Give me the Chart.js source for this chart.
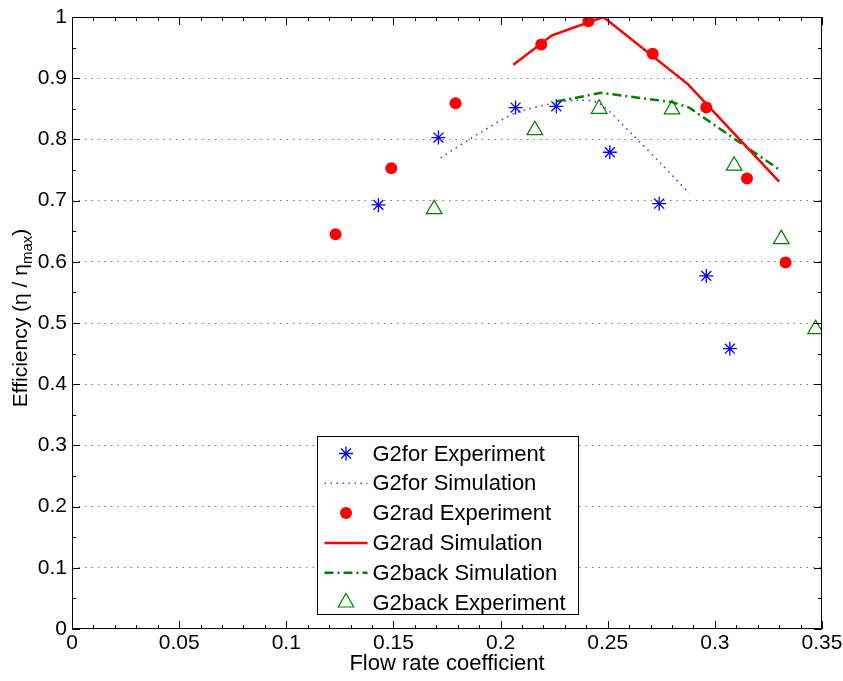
<!DOCTYPE html>
<html>
<head>
<meta charset="utf-8">
<script src="https://cdn.jsdelivr.net/npm/chart.js@4/dist/chart.umd.min.js"></script>
<style>
  html, body { margin: 0; padding: 0; background: #fff; }
  #wrap { width: 843px; height: 681px; }
</style>
</head>
<body>
<div id="wrap"><canvas id="myChart" width="843" height="681"></canvas></div>
<script>
// G2for
var forExpX = [0.143, 0.171, 0.207, 0.226, 0.251, 0.274, 0.296, 0.307];
var forExpY = [0.693, 0.803, 0.852, 0.854, 0.779, 0.695, 0.577, 0.458];
var forSimX = [0.172, 0.190, 0.207, 0.226, 0.236, 0.246, 0.262, 0.275, 0.288];
var forSimY = [0.770, 0.810, 0.843, 0.860, 0.864, 0.859, 0.806, 0.760, 0.712];
// G2rad
var radExpX = [0.123, 0.149, 0.179, 0.219, 0.241, 0.271, 0.296, 0.315, 0.333];
var radExpY = [0.645, 0.753, 0.859, 0.955, 0.993, 0.940, 0.852, 0.736, 0.599];
var radSimX = [0.206, 0.224, 0.248, 0.2875, 0.330];
var radSimY = [0.922, 0.970, 1.000, 0.890, 0.731];
// G2back
var backSimX = [0.226, 0.247, 0.280, 0.288, 0.3295];
var backSimY = [0.862, 0.876, 0.861, 0.852, 0.752];
var backExpX = [0.169, 0.216, 0.246, 0.280, 0.309, 0.331, 0.347];
var backExpY = [0.686, 0.815, 0.850, 0.849, 0.757, 0.637, 0.490];

var xTicks = [0, 0.05, 0.1, 0.15, 0.2, 0.25, 0.3, 0.35];
var yTicks = [0, 0.1, 0.2, 0.3, 0.4, 0.5, 0.6, 0.7, 0.8, 0.9, 1];

var FONT = "'Liberation Sans', Arial, Helvetica, sans-serif";

function zip(xs, ys) {
    return xs.map(function (x, i) { return { x: x, y: ys[i] }; });
}

// draws a legend sample marker the same way as the point styles
function drawMarker(ctx, ds, x, y) {
    var r = ds.pointRadius;
    ctx.save();
    ctx.strokeStyle = ds.pointBorderColor || ds.borderColor;
    ctx.fillStyle = ds.pointBackgroundColor || ds.backgroundColor;
    ctx.lineWidth = ds.pointBorderWidth || 1;
    ctx.beginPath();
    if (ds.pointStyle === "circle") {
        ctx.arc(x, y, r, 0, Math.PI * 2);
        ctx.fill();
    } else if (ds.pointStyle === "star") {
        for (var k = 0; k < 4; k++) {
            var a = k * Math.PI / 4;
            ctx.moveTo(x - Math.cos(a) * r, y - Math.sin(a) * r);
            ctx.lineTo(x + Math.cos(a) * r, y + Math.sin(a) * r);
        }
        ctx.stroke();
    } else if (ds.pointStyle === "triangle") {
        var rad = 0;
        ctx.moveTo(x + Math.sin(rad) * r, y - Math.cos(rad) * r);
        rad += 2 * Math.PI / 3;
        ctx.lineTo(x + Math.sin(rad) * r, y - Math.cos(rad) * r);
        rad += 2 * Math.PI / 3;
        ctx.lineTo(x + Math.sin(rad) * r, y - Math.cos(rad) * r);
        ctx.closePath();
        ctx.stroke();
    }
    ctx.restore();
}

var framePlugin = {
    id: "frame",
    afterDraw: function (chart) {
        var ctx = chart.ctx;
        var a = chart.chartArea;
        var xs = chart.scales.x, ys = chart.scales.y;
        ctx.save();

        // box
        ctx.strokeStyle = "#000";
        ctx.lineWidth = 1;
        ctx.strokeRect(a.left + 0.5, a.top + 0.5, a.right - a.left - 1, a.bottom - a.top - 1);

        // inward ticks on all four sides
        ctx.beginPath();
        var i, v, p, len;
        for (i = 0; i <= 35; i++) {
            v = i / 100;
            p = Math.round(xs.getPixelForValue(v)) + 0.5;
            len = (i % 5 === 0) ? 8 : 4;
            ctx.moveTo(p, a.bottom); ctx.lineTo(p, a.bottom - len);
            ctx.moveTo(p, a.top); ctx.lineTo(p, a.top + len);
        }
        for (i = 0; i <= 20; i++) {
            v = i / 20;
            p = Math.round(ys.getPixelForValue(v)) + 0.5;
            len = (i % 2 === 0) ? 8 : 4;
            ctx.moveTo(a.left, p); ctx.lineTo(a.left + len, p);
            ctx.moveTo(a.right, p); ctx.lineTo(a.right - len, p);
        }
        ctx.stroke();

        // x axis title
        ctx.fillStyle = "#000";
        ctx.font = "22px " + FONT;
        ctx.textAlign = "center";
        ctx.textBaseline = "middle";
        ctx.fillText("Flow rate coefficient", (a.left + a.right) / 2, 664);

        // y axis title with subscript
        ctx.save();
        ctx.translate(20, (a.top + a.bottom) / 2 - 5);
        ctx.rotate(-Math.PI / 2);
        var main = "Efficiency (\u03b7 / \u03b7";
        var sub = "max";
        var tail = ")";
        ctx.font = "21px " + FONT;
        var w1 = ctx.measureText(main).width;
        var w3 = ctx.measureText(tail).width;
        ctx.font = "15px " + FONT;
        var w2 = ctx.measureText(sub).width;
        var x0 = -(w1 + w2 + w3) / 2;
        ctx.textAlign = "left";
        ctx.textBaseline = "alphabetic";
        ctx.font = "21px " + FONT;
        ctx.fillText(main, x0, 7);
        ctx.font = "15px " + FONT;
        ctx.fillText(sub, x0 + w1, 12);
        ctx.font = "21px " + FONT;
        ctx.fillText(tail, x0 + w1 + w2, 7);
        ctx.restore();

        // legend box
        var bw = 261, bh = 178;
        var bx = Math.round((a.left + a.right) / 2 - bw / 2) + 0.5;
        var by = Math.round(a.bottom - 15 - bh) + 0.5;
        ctx.fillStyle = "#fff";
        ctx.fillRect(bx, by, bw, bh);
        ctx.strokeStyle = "#000";
        ctx.lineWidth = 1;
        ctx.strokeRect(bx, by, bw, bh);

        chart.data.datasets.forEach(function (ds, k) {
            var cy = by + 17 + k * 29.8;
            var sx0 = bx + 7, sx1 = bx + 50;
            if (ds.showLine) {
                ctx.save();
                ctx.strokeStyle = ds.borderColor;
                ctx.lineWidth = ds.borderWidth;
                ctx.setLineDash(ds.borderDash || []);
                ctx.beginPath();
                ctx.moveTo(sx0, cy);
                ctx.lineTo(sx1, cy);
                ctx.stroke();
                ctx.restore();
            } else {
                drawMarker(ctx, ds, (sx0 + sx1) / 2, cy);
            }
            ctx.fillStyle = "#000";
            ctx.font = "22px " + FONT;
            ctx.textAlign = "left";
            ctx.textBaseline = "middle";
            ctx.fillText(ds.label, bx + 55, cy + 1);
        });

        ctx.restore();
    }
};

window.onload = function () {
    var ctx = document.getElementById("myChart").getContext("2d");
    var myChart = new Chart(ctx, {
        type: "scatter",
        data: {
            datasets: [{
                label: "G2for Experiment",
                data: zip(forExpX, forExpY),
                showLine: false,
                pointStyle: "star",
                pointRadius: 7,
                pointBorderWidth: 1.3,
                borderColor: "#0000ff",
                backgroundColor: "#0000ff"
            },
            {
                label: "G2for Simulation",
                data: zip(forSimX, forSimY),
                showLine: true,
                borderColor: "#4040ff",
                borderWidth: 1.6,
                borderDash: [1.5, 4.5],
                pointRadius: 0,
                tension: 0.3,
                fill: false
            },
            {
                label: "G2rad Experiment",
                data: zip(radExpX, radExpY),
                showLine: false,
                pointStyle: "circle",
                pointRadius: 6,
                pointBorderWidth: 0,
                borderColor: "#ff0000",
                backgroundColor: "#ff0000"
            },
            {
                label: "G2rad Simulation",
                data: zip(radSimX, radSimY),
                showLine: true,
                borderColor: "#ff0000",
                borderWidth: 2.5,
                pointRadius: 0,
                fill: false
            },
            {
                label: "G2back Simulation",
                data: zip(backSimX, backSimY),
                showLine: true,
                borderColor: "#008000",
                borderWidth: 2.5,
                borderDash: [9, 4, 2, 4],
                pointRadius: 0,
                fill: false
            },
            {
                label: "G2back Experiment",
                data: zip(backExpX, backExpY),
                showLine: false,
                pointStyle: "triangle",
                pointRadius: 9,
                pointBorderWidth: 1.2,
                borderColor: "#008000",
                backgroundColor: "rgba(0,0,0,0)"
            }
        ]},
        options: {
            responsive: false,
            animation: false,
            layout: { padding: { top: 17, right: 21, left: 0, bottom: 0 } },
            plugins: {
                legend: { display: false },
                tooltip: { enabled: false }
            },
            scales: {
                x: {
                    type: "linear",
                    min: 0,
                    max: 0.35,
                    afterBuildTicks: function (s) {
                        s.ticks = xTicks.map(function (v) { return { value: v }; });
                    },
                    afterFit: function (s) {
                        s.height = 52;
                        s.paddingLeft = 0;
                        s.paddingRight = 0;
                    },
                    ticks: {
                        color: "#000",
                        font: { family: FONT, size: 21 },
                        padding: 2,
                        maxRotation: 0,
                        callback: function (v) { return String(Number(v.toFixed(2))); }
                    },
                    grid: { display: false, drawTicks: false },
                    border: { display: false }
                },
                y: {
                    min: 0,
                    max: 1,
                    afterBuildTicks: function (s) {
                        s.ticks = yTicks.map(function (v) { return { value: v }; });
                    },
                    afterFit: function (s) {
                        s.width = 72;
                        s.paddingTop = 0;
                        s.paddingBottom = 0;
                    },
                    ticks: {
                        color: "#000",
                        font: { family: FONT, size: 21 },
                        padding: 5,
                        callback: function (v) { return String(Number(v.toFixed(1))); }
                    },
                    grid: {
                        drawTicks: false,
                        lineWidth: 1,
                        color: function (c) {
                            var v = c.tick ? c.tick.value : 0;
                            return (v > 0.001 && v < 0.999) ? "#7a7a7a" : "rgba(0,0,0,0)";
                        }
                    },
                    border: { display: false, dash: [1.5, 5] }
                }
            }
        },
        plugins: [framePlugin]
    });
};
</script>
</body>
</html>
